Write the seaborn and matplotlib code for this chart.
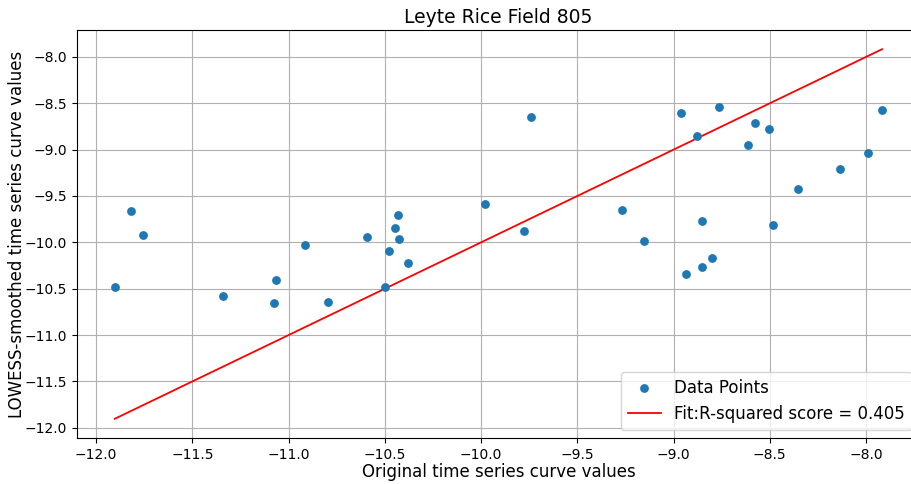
import matplotlib
matplotlib.use("Agg")
import matplotlib.pyplot as plt
import seaborn as sns
import pandas as pd

x_values = [-11.903, -11.818, -11.757, -11.342, -11.067, -11.077, -10.913, -10.795,
            -10.591, -10.480, -10.445, -10.431, -10.426, -10.378, -10.499, -9.981,
            -9.778, -9.742, -9.266, -9.155, -8.961, -8.933, -8.878, -8.855, -8.850,
            -8.800, -8.765, -8.611, -8.575, -8.504, -8.483, -8.355, -8.135, -7.990,
            -7.917]
y_values = [-10.48, -9.664, -9.919, -10.584, -10.408, -10.656, -10.024, -10.638,
            -9.941, -10.088, -9.847, -9.707, -9.966, -10.221, -10.480, -9.588,
            -9.883, -8.650, -9.653, -9.984, -8.604, -10.336, -8.855, -9.765, -10.261,
            -10.171, -8.542, -8.949, -8.708, -8.780, -9.811, -9.423, -9.211, -9.032,
            -8.568]
fit_x = [-11.903, -7.917]
fit_y = [-11.903, -7.917]

title = "Leyte Rice Field 805"
xlabel = "Original time series curve values"
ylabel = "LOWESS-smoothed time series curve values"
points_label = "Data Points"
fit_label = "Fit:R-squared score = 0.405"

df = pd.DataFrame({"x": x_values, "y": y_values})
fit_df = pd.DataFrame({"x": fit_x, "y": fit_y})

fig = plt.figure(figsize=(9.11, 4.84), dpi=100)
ax = fig.add_axes([77 / 911, 1 - 438 / 484, (920 - 77) / 911, (438 - 30) / 484])

sns.scatterplot(data=df, x="x", y="y", ax=ax, s=40, color="#1f77b4",
                linewidth=0, label=points_label, zorder=3)
sns.lineplot(data=fit_df, x="x", y="y", ax=ax, color="red", linewidth=1.3,
             label=fit_label, zorder=2)

ax.set_xlim(-12.099, -7.72)
ax.set_ylim(-12.11, -7.71)
ax.grid(True, color="#b0b0b0", linewidth=0.8)
ax.set_axisbelow(True)
ax.set_title(title, fontsize=13.5, pad=5)
ax.set_xlabel(xlabel, fontsize=12, labelpad=1)
ax.set_ylabel(ylabel, fontsize=12, labelpad=-1)
ax.legend(loc="lower right", fontsize=12)

fig.savefig("out.png", dpi=100)
